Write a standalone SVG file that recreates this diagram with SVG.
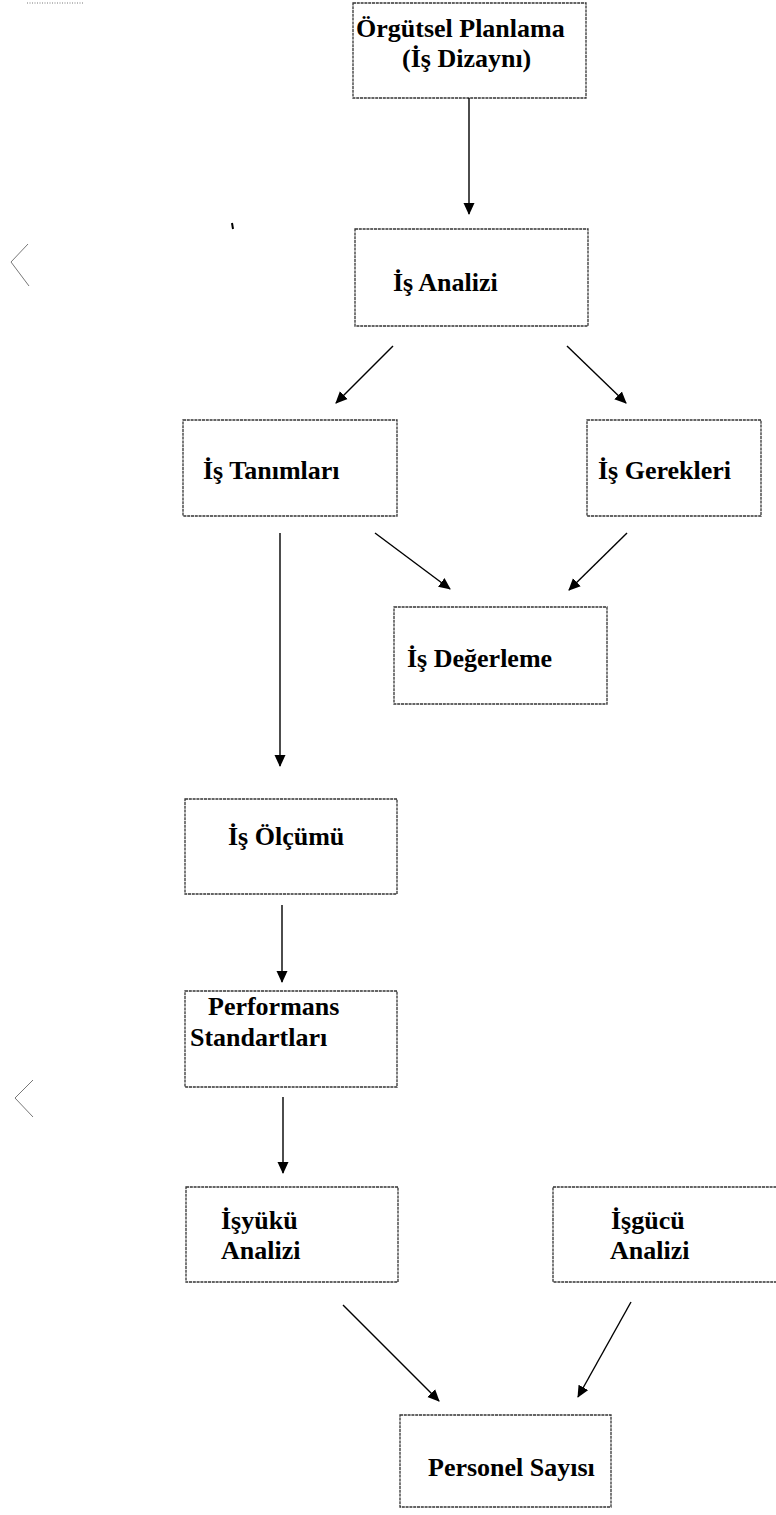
<svg xmlns="http://www.w3.org/2000/svg" width="776" height="1515" viewBox="0 0 776 1515">
<defs>
<marker id="ah" markerUnits="userSpaceOnUse" markerWidth="12" markerHeight="12" viewBox="0 0 12 12" refX="11" refY="6" orient="auto">
<path d="M0,0.5 L12,6 L0,11.5 z" fill="#000"/>
</marker>
<style>
.box{fill:#fff;stroke:#333;stroke-width:1.3;stroke-dasharray:3 0.8}
.t{font-family:"Liberation Serif","Times New Roman",serif;font-weight:bold;font-size:26px;fill:#000}
.c{stroke:#000;stroke-width:1.4;fill:none;marker-end:url(#ah)}
.art{stroke:#777;stroke-width:1;fill:none}
</style>
</defs>
<rect width="776" height="1515" fill="#fff"/>
<g id="artifacts">
<path class="art" d="M27,3 H84" stroke-dasharray="1 1.5"/>
<path class="art" d="M28,244 L11,262 L29,286"/>
<path class="art" d="M33,1080 L15,1098 L33,1117"/>
<path d="M232,223 L233,229" stroke="#000" stroke-width="2"/>
</g>
<g id="n1"><rect class="box" x="353" y="3" width="233" height="95"/>
<text class="t" x="356" y="37">Örgütsel Planlama</text>
<text class="t" x="402" y="67">(İş Dizaynı)</text></g>
<g id="n2"><rect class="box" x="355" y="229" width="233" height="97"/>
<text class="t" x="393" y="291">İş Analizi</text></g>
<g id="n3"><rect class="box" x="183" y="420" width="214" height="96"/>
<text class="t" x="203" y="479">İş Tanımları</text></g>
<g id="n4"><rect class="box" x="587" y="420" width="174" height="96"/>
<text class="t" x="598" y="479">İş Gerekleri</text></g>
<g id="n5"><rect class="box" x="394" y="607" width="213" height="97"/>
<text class="t" x="407" y="667">İş Değerleme</text></g>
<g id="n6"><rect class="box" x="185" y="799" width="212" height="95"/>
<text class="t" x="228" y="845">İş Ölçümü</text></g>
<g id="n7"><rect class="box" x="185" y="991" width="212" height="96"/>
<text class="t" x="208" y="1015">Performans</text>
<text class="t" x="190" y="1046">Standartları</text></g>
<g id="n8"><rect class="box" x="186" y="1187" width="212" height="95"/>
<text class="t" x="221" y="1229">İşyükü</text>
<text class="t" x="221" y="1259">Analizi</text></g>
<g id="n9"><rect class="box" x="553" y="1187" width="226" height="95"/>
<text class="t" x="611" y="1229">İşgücü</text>
<text class="t" x="610" y="1259">Analizi</text></g>
<g id="n10"><rect class="box" x="400" y="1415" width="211" height="92"/>
<text class="t" x="428" y="1476">Personel Sayısı</text></g>
<g id="connectors">
<line class="c" x1="469" y1="98" x2="469" y2="214"/>
<line class="c" x1="393" y1="346" x2="336" y2="403"/>
<line class="c" x1="567" y1="346" x2="626" y2="403"/>
<line class="c" x1="280" y1="533" x2="280" y2="766"/>
<line class="c" x1="375" y1="533" x2="450" y2="589"/>
<line class="c" x1="627" y1="533" x2="569" y2="590"/>
<line class="c" x1="282" y1="905" x2="282" y2="982"/>
<line class="c" x1="283" y1="1097" x2="283" y2="1173"/>
<line class="c" x1="343" y1="1305" x2="439" y2="1401"/>
<line class="c" x1="631" y1="1302" x2="578" y2="1397"/>
</g>
</svg>
